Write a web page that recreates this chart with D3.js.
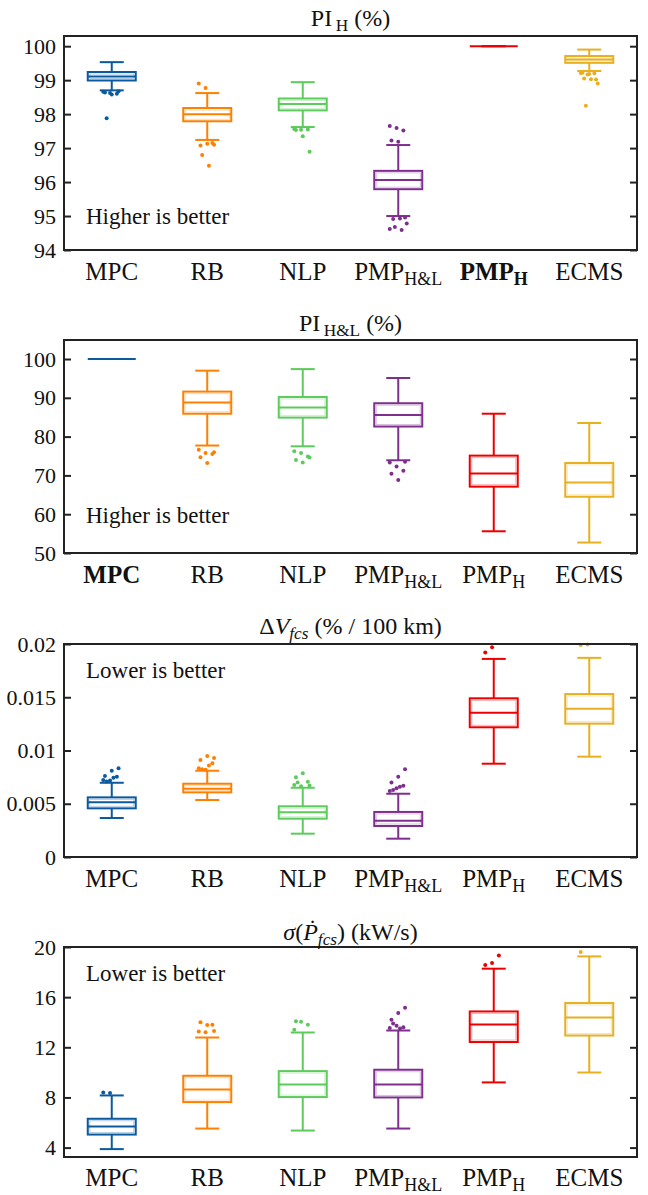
<!DOCTYPE html>
<html>
<head>
<meta charset="utf-8">
<script src="https://cdn.jsdelivr.net/npm/d3@7"></script>
<style>
  body { margin: 0; background: #fff; }
  svg text { font-family: "Liberation Serif", "Times New Roman", Tinos, "DejaVu Serif", serif; fill: #111; }
</style>
</head>
<body>
<svg id="chart" width="648" height="1195"></svg>
<script>
// categories and colours
var categories = ["MPC", "RB", "NLP", "PMP_H&L", "PMP_H", "ECMS"];
var colors = ["#0b5a9e", "#ff8000", "#5ccb5c", "#7e2f8e", "#ee0000", "#e8b020"];
var serif = '"Liberation Serif", "Times New Roman", Tinos, "DejaVu Serif", serif';

// box stats: [lower whisker, q1, median, q3, upper whisker]
var piH_stats = [
    [98.70, 98.99, 99.11, 99.24, 99.53],
    [97.24, 97.79, 98.00, 98.18, 98.62],
    [97.62, 98.11, 98.30, 98.46, 98.94],
    [95.00, 95.79, 96.06, 96.33, 97.09],
    [100, 100, 100, 100, 100],
    [99.27, 99.51, 99.61, 99.71, 99.90]
];
var piH_outliers = [
    [98.66, 98.62, 98.60, 98.64, 98.58, 98.67, 97.88],
    [98.90, 98.77, 97.15, 97.08, 97.13, 97.10, 96.80, 96.48],
    [97.56, 97.54, 97.55, 97.53, 97.35, 96.89],
    [97.65, 97.59, 97.52, 97.22, 97.19, 94.96, 94.91, 94.93, 94.78, 94.68, 94.59, 94.62],
    [],
    [99.21, 99.17, 99.20, 99.22, 99.18, 99.02, 99.05, 99.03, 98.90, 98.25]
];

var piHL_stats = [
    [100, 100, 100, 100, 100],
    [77.7, 85.9, 88.8, 91.6, 97.0],
    [77.5, 84.9, 87.5, 90.2, 97.4],
    [73.9, 82.6, 85.6, 88.6, 95.1],
    [55.6, 67.1, 70.5, 75.1, 85.9],
    [52.7, 64.5, 68.2, 73.2, 83.5]
];
var piHL_outliers = [
    [],
    [76.6, 75.8, 75.5, 74.7, 73.2, 76.0],
    [76.2, 75.8, 74.9, 74.0, 73.3, 74.6],
    [73.3, 72.3, 71.2, 70.4, 68.8, 73.5],
    [],
    []
];

var dV_stats = [
    [0.00366, 0.00457, 0.00514, 0.00560, 0.00697],
    [0.00535, 0.00607, 0.00641, 0.00688, 0.00810],
    [0.00219, 0.00360, 0.00420, 0.00476, 0.00650],
    [0.00172, 0.00291, 0.00341, 0.00423, 0.00594],
    [0.00876, 0.01218, 0.01355, 0.01490, 0.01860],
    [0.00942, 0.01252, 0.01392, 0.01530, 0.01870]
];
var dV_outliers = [
    [0.00723, 0.00718, 0.00754, 0.00760, 0.00810, 0.00833, 0.00710, 0.00745],
    [0.00833, 0.00820, 0.00880, 0.00910, 0.00948, 0.00930, 0.00825, 0.00860],
    [0.00676, 0.00665, 0.00707, 0.00748, 0.00786, 0.00672, 0.00700],
    [0.00620, 0.00645, 0.00670, 0.00700, 0.00754, 0.00823, 0.00630, 0.00660],
    [0.01920, 0.01970],
    [0.01990, 0.01995]
];

var sigma_stats = [
    [3.88, 5.04, 5.68, 6.30, 8.16],
    [5.52, 7.63, 8.64, 9.73, 12.78],
    [5.36, 8.03, 9.03, 10.10, 13.18],
    [5.52, 8.00, 9.03, 10.21, 13.34],
    [9.20, 12.42, 13.82, 14.86, 18.27],
    [9.99, 12.94, 14.38, 15.53, 19.25]
];
var sigma_outliers = [
    [8.40, 8.35],
    [13.26, 13.20, 13.80, 14.00, 13.77, 13.30],
    [13.40, 14.04, 13.80, 14.07],
    [13.54, 13.72, 13.60, 14.20, 14.73, 15.16, 13.90, 13.50],
    [18.56, 18.72, 19.33],
    [19.60]
];

// tick values
var piH_ticks = [94, 95, 96, 97, 98, 99, 100];
var piHL_ticks = [50, 60, 70, 80, 90, 100];
var dV_ticks = [0, 0.005, 0.01, 0.015, 0.02];
var dV_tickLabels = ["0", "0.005", "0.01", "0.015", "0.02"];
var sigma_ticks = [4, 8, 12, 16, 20];

var panels = [
    {stats: piH_stats, outliers: piH_outliers, domain: [94, 100.3], ticks: piH_ticks, fmt: String,
     top: 36, bottom: 250, titleY: 26, labelY: 280, note: "Higher is better", noteY: 224, bold: "PMP_H",
     title: [{t: "PI"}, {t: "\u2009H", sub: true}, {t: " (%)"}]},
    {stats: piHL_stats, outliers: piHL_outliers, domain: [50, 104.9], ticks: piHL_ticks, fmt: String,
     top: 340, bottom: 553, titleY: 331, labelY: 583, note: "Higher is better", noteY: 523, bold: "MPC",
     title: [{t: "PI"}, {t: "\u2009H&L", sub: true}, {t: " (%)"}]},
    {stats: dV_stats, outliers: dV_outliers, domain: [0, 0.02], ticks: dV_ticks,
     fmt: function(d, i) { return dV_tickLabels[i] },
     top: 644, bottom: 857, titleY: 634, labelY: 887, note: "Lower is better", noteY: 678, bold: null,
     title: [{t: "\u0394"}, {t: "V", it: true}, {t: "fcs", sub: true, it: true}, {t: " (% / 100 km)"}]},
    {stats: sigma_stats, outliers: sigma_outliers, domain: [3.25, 20], ticks: sigma_ticks, fmt: String,
     top: 947, bottom: 1157, titleY: 940, labelY: 1186, note: "Lower is better", noteY: 981, bold: null,
     title: [{t: "\u03c3", it: true}, {t: "("}, {t: "\u1e56", it: true}, {t: "fcs", sub: true, it: true}, {t: ") (kW/s)"}]}
];

var left = 64, right = 637;
var boxW = 48, capW = 24;
var svg = d3.select('#chart');

var x = d3.scaleBand().domain(categories).range([left, right]).padding(0);

// text with subscripts
function richText(sel, parts, size) {
    var shift = 0;
    sel.attr('font-family', serif);
    parts.forEach(function(p) {
        var target = p.sub ? size * 0.2 : 0;
        sel.append('tspan')
            .attr('dy', target - shift)
            .attr('font-size', p.sub ? size * 0.72 : size)
            .attr('font-style', p.it ? 'italic' : null)
            .text(p.t);
        shift = target;
    });
}

function catParts(c) {
    var s = c.split('_');
    var parts = [{t: s[0]}];
    if (s[1]) parts.push({t: s[1], sub: true});
    return parts;
}

panels.forEach(function(p) {
    var y = d3.scaleLinear().domain(p.domain).range([p.bottom, p.top]);
    var g = svg.append('g');

    // axes with inward ticks
    var ax = g.append('g').attr('transform', 'translate(' + left + ',0)')
        .call(d3.axisLeft(y).tickValues(p.ticks).tickFormat(p.fmt)
            .tickSizeInner(-7).tickSizeOuter(0).tickPadding(8));
    ax.attr('font-family', serif);
    ax.select('.domain').remove();
    ax.selectAll('line').attr('stroke', '#222').attr('stroke-width', 2);
    ax.selectAll('text').attr('font-size', 22).attr('fill', '#111');

    var ax2 = g.append('g').attr('transform', 'translate(' + right + ',0)')
        .call(d3.axisRight(y).tickValues(p.ticks).tickFormat('')
            .tickSizeInner(-7).tickSizeOuter(0));
    ax2.select('.domain').remove();
    ax2.selectAll('line').attr('stroke', '#222').attr('stroke-width', 2);

    // boxes
    var bx = g.selectAll('.box')
        .data(p.stats)
        .join('g')
        .attr('class', 'box')
        .attr('transform', function(d, i) {
            return 'translate(' + (x(categories[i]) + x.bandwidth() / 2) + ',0)'
        });

    bx.each(function(d, i) {
        var b = d3.select(this);
        var col = colors[i];
        var line = function(x1, y1, x2, y2) {
            b.append('line').attr('x1', x1).attr('x2', x2).attr('y1', y1).attr('y2', y2)
                .attr('stroke', col).attr('stroke-width', 2);
        };
        line(0, y(d[4]), 0, y(d[3]));
        line(0, y(d[1]), 0, y(d[0]));
        line(-capW / 2, y(d[4]), capW / 2, y(d[4]));
        line(-capW / 2, y(d[0]), capW / 2, y(d[0]));
        b.append('rect')
            .attr('x', -boxW / 2).attr('width', boxW)
            .attr('y', y(d[3])).attr('height', y(d[1]) - y(d[3]))
            .attr('fill', 'none').attr('stroke', col).attr('stroke-width', 2);
        if (y(d[1]) - y(d[3]) > 5) {
            b.append('rect')
                .attr('x', -boxW / 2 + 2).attr('width', boxW - 4)
                .attr('y', y(d[3]) + 2).attr('height', y(d[1]) - y(d[3]) - 4)
                .attr('fill', 'none').attr('stroke', col).attr('stroke-opacity', 0.3).attr('stroke-width', 1);
        }
        line(-boxW / 2, y(d[2]), boxW / 2, y(d[2]));

        b.selectAll('circle')
            .data(p.outliers[i])
            .join('circle')
            .attr('cx', function(v, k) { return ((k * 37) % 11 - 5) * 1.7 })
            .attr('cy', function(v) { return y(v) })
            .attr('r', 2)
            .attr('fill', col);
    });

    // frame
    g.append('rect')
        .attr('x', left).attr('y', p.top)
        .attr('width', right - left).attr('height', p.bottom - p.top)
        .attr('fill', 'none').attr('stroke', '#222').attr('stroke-width', 2);

    // title
    richText(g.append('text').attr('x', (left + right) / 2).attr('y', p.titleY)
        .attr('text-anchor', 'middle'), p.title, 24);

    // note
    g.append('text').attr('x', 86).attr('y', p.noteY).attr('font-size', 23)
        .attr('font-family', serif).text(p.note);

    // category labels
    categories.forEach(function(c) {
        var t = g.append('text')
            .attr('x', x(c) + x.bandwidth() / 2)
            .attr('y', p.labelY)
            .attr('text-anchor', 'middle')
            .attr('font-weight', c === p.bold ? 'bold' : null);
        richText(t, catParts(c), 25);
    });
});
</script>
</body>
</html>
